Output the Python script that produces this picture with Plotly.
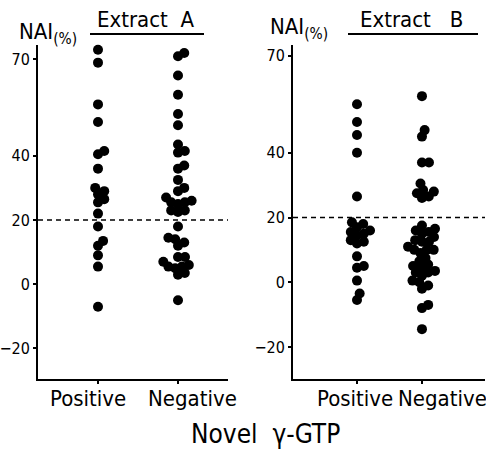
import plotly.graph_objects as go

# ---------------- data (NAI %) ----------------
categories = ["Positive", "Negative"]
panel_titles = ["Extract  A", "Extract   B"]
y_ticks = [70, 40, 20, 0, -20]
threshold = 20

a_positive = [73, 69, 56, 50.5, 41.5, 40.5, 36, 30, 29, 28, 26.5, 25.5, 22, 18,
              13.5, 12, 9, 5.5, -7]
a_negative = [75.5, 72, 71, 65, 59, 53, 49.5, 43.5, 41.5, 41, 37, 36, 32.5, 30,
              29, 27, 25.5, 25, 25.5, 26, 23, 23, 22.5, 18, 14, 13, 14.5, 12, 7,
              8.5, 8.5, 6, 5.5, 5.5, 3.5, 3, 5, -5]
b_positive = [55, 49.5, 45.5, 40, 26.5, 18.5, 18, 16, 15, 14.5, 15.5, 17, 12.5,
              13, 12, 8, 5, 4.5, 0.5, -3.5, -5.5]
b_negative = [57.5, 47, 45, 37, 37, 30.5, 28.5, 28, 27.5, 26, 26.5, 15, 16, 15.5,
              16.5, 17.5, 12.5, 13, 12.5, 14, 11, 9, 10, 10, 10, 7.5, 5.5, 6.5,
              5, 4.5, 3, 3, 3.5, 2, 0.5, 0, -1, -2, -7, -8, -14.5]

# ---------------- layout helpers ----------------
W, H = 486, 450
FONT = "DejaVu Sans Condensed, DejaVu Sans, sans-serif"


def px(x):
    return x / W


def py(y):
    return 1 - y / H


def swarm(vals, ppu_y, ppu_x, d=7.0):
    """Simple beeswarm: offset each dot sideways so dots do not pile up."""
    placed = []
    xs = [0.0] * len(vals)
    order = sorted(range(len(vals)), key=lambda i: vals[i])
    for i in order:
        y = vals[i] * ppu_y
        cands = [0.0]
        for (qx, qy) in placed:
            dy = y - qy
            if abs(dy) < d:
                dx = (d * d - dy * dy) ** 0.5
                cands += [qx + dx, qx - dx]
        cands.sort(key=abs)
        best = 0.0
        for c in cands:
            if all((c - qx) ** 2 + (y - qy) ** 2 >= d * d - 1e-6 for qx, qy in placed):
                best = c
                break
        placed.append((best, y))
        xs[i] = best / ppu_x
    return xs


panels = [
    dict(data=[a_positive, a_negative], xdom=(38, 228), xrng=(0.25, 2.625),
         yrng=(-29.5, 74.5), ppx=80.0, ppy=3.21),
    dict(data=[b_positive, b_negative], xdom=(293, 485), xrng=(0.015, 2.97),
         yrng=(-29.9, 73.3), ppx=65.0, ppy=3.236),
]

fig = go.Figure()
shapes = []
annotations = []

for k, p in enumerate(panels):
    xa = "x" if k == 0 else "x2"
    ya = "y" if k == 0 else "y2"
    for ci, vals in enumerate(p["data"]):
        offs = swarm(vals, p["ppy"], p["ppx"])
        fig.add_trace(go.Scatter(
            x=[ci + 1 + o for o in offs], y=vals, mode="markers",
            marker=dict(color="black", size=10, line=dict(width=0)),
            xaxis=xa, yaxis=ya, showlegend=False, hoverinfo="skip",
            cliponaxis=False))
    axis_common = dict(showline=True, linecolor="black", linewidth=2,
                       showgrid=False, zeroline=False, ticks="outside",
                       ticklen=3, tickwidth=1.5, tickcolor="black",
                       automargin=False)
    xkey = "xaxis" if k == 0 else "xaxis2"
    ykey = "yaxis" if k == 0 else "yaxis2"
    fig.update_layout(**{
        xkey: dict(domain=[px(p["xdom"][0]), px(p["xdom"][1])],
                   range=list(p["xrng"]), tickvals=[1, 2],
                   showticklabels=False, anchor=ya, **axis_common),
        ykey: dict(domain=[py(379), py(45)], range=list(p["yrng"]),
                   tickvals=y_ticks, ticktext=[str(v).replace("-", "\u2212") for v in y_ticks],
                   tickfont=dict(family=FONT, size=16, color="black"),
                   anchor=xa, **axis_common),
    })
    # threshold dashed line
    shapes.append(dict(type="line", xref=xa, yref=ya, x0=p["xrng"][0],
                       x1=p["xrng"][1], y0=threshold, y1=threshold,
                       line=dict(color="black", width=1.5, dash="5px,4px")))

# category labels (placed below ticks)
label_spec = [
    ("x", 30, -32), ("x2", 38, -26)
]
for xa, sp, sn in label_spec:
    annotations.append(dict(xref=xa, yref="paper", x=1, y=py(398), xshift=sp,
                            xanchor="right", yanchor="middle", showarrow=False,
                            text=categories[0],
                            font=dict(family=FONT, size=22, color="black")))
    annotations.append(dict(xref=xa, yref="paper", x=2, y=py(398), xshift=sn,
                            xanchor="left", yanchor="middle", showarrow=False,
                            text=categories[1],
                            font=dict(family=FONT, size=22, color="black")))

# panel titles with underline
title_spec = [(145.5, 90, 204), (411.5, 348, 478)]
for t, (cx, u0, u1) in zip(panel_titles, title_spec):
    annotations.append(dict(xref="paper", yref="paper", x=px(cx), y=py(20),
                            xanchor="center", yanchor="middle", showarrow=False,
                            text=t, font=dict(family=FONT, size=22, color="black")))
    shapes.append(dict(type="line", xref="paper", yref="paper", x0=px(u0),
                       x1=px(u1), y0=py(34), y1=py(34),
                       line=dict(color="black", width=1.8)))

# y axis titles
for (lx, ly) in [(17, 33), (268, 29)]:
    annotations.append(dict(xref="paper", yref="paper", x=px(lx), y=py(ly),
                            xanchor="left", yanchor="middle", showarrow=False,
                            text="NAI<sub>(%)</sub>",
                            font=dict(family=FONT, size=22, color="black")))

# common x title
annotations.append(dict(xref="paper", yref="paper", x=px(265), y=py(434),
                        xanchor="center", yanchor="middle", showarrow=False,
                        text="Novel  \u03b3-GTP",
                        font=dict(family=FONT, size=26, color="black")))

fig.update_layout(width=W, height=H, margin=dict(l=0, r=0, t=0, b=0),
                  paper_bgcolor="white", plot_bgcolor="white",
                  showlegend=False, shapes=shapes, annotations=annotations)

fig.write_html("out.html", config={"displayModeBar": False},
               post_script="document.body.style.margin='0';"
                           "document.body.style.padding='0';")
